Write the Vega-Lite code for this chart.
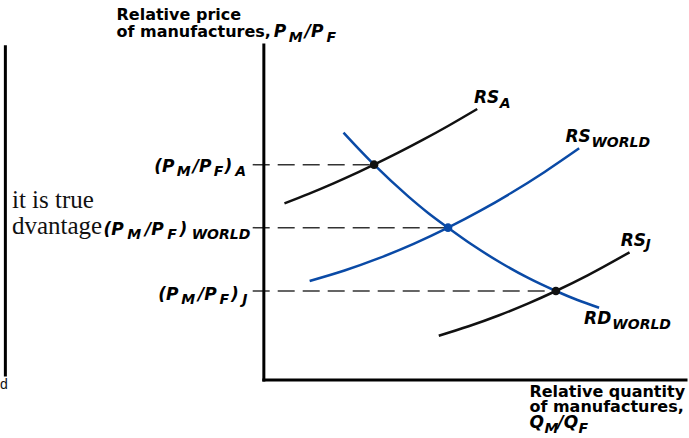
{
  "$schema": "https://vega.github.io/schema/vega-lite/v6.json",
  "width": 689,
  "height": 438,
  "autosize": {"type": "fit", "contains": "padding"},
  "padding": 0,
  "background": "white",
  "config": {"view": {"stroke": null}},
  "datasets": {
    "curves": [
      {"curve": "RS_A", "x": 0.5175, "y": 5.89},
      {"curve": "RS_A", "x": 1.125, "y": 6.207},
      {"curve": "RS_A", "x": 1.75, "y": 6.557},
      {"curve": "RS_A", "x": 2.375, "y": 6.93},
      {"curve": "RS_A", "x": 2.7675, "y": 7.177},
      {"curve": "RS_A", "x": 3.375, "y": 7.576},
      {"curve": "RS_A", "x": 4.0, "y": 8.01},
      {"curve": "RS_A", "x": 4.625, "y": 8.467},
      {"curve": "RS_A", "x": 5.3575, "y": 9.033},
      {"curve": "RS_WORLD", "x": 1.15, "y": 3.3},
      {"curve": "RS_WORLD", "x": 2.025, "y": 3.649},
      {"curve": "RS_WORLD", "x": 2.875, "y": 4.052},
      {"curve": "RS_WORLD", "x": 3.775, "y": 4.546},
      {"curve": "RS_WORLD", "x": 4.625, "y": 5.077},
      {"curve": "RS_WORLD", "x": 5.45, "y": 5.652},
      {"curve": "RS_WORLD", "x": 6.2075, "y": 6.232},
      {"curve": "RS_WORLD", "x": 7.05, "y": 6.936},
      {"curve": "RS_WORLD", "x": 7.9175, "y": 7.723},
      {"curve": "RD_WORLD", "x": 2.0, "y": 8.243},
      {"curve": "RD_WORLD", "x": 2.375, "y": 7.71},
      {"curve": "RD_WORLD", "x": 2.7675, "y": 7.177},
      {"curve": "RD_WORLD", "x": 3.625, "y": 6.123},
      {"curve": "RD_WORLD", "x": 4.125, "y": 5.57},
      {"curve": "RD_WORLD", "x": 4.625, "y": 5.077},
      {"curve": "RD_WORLD", "x": 5.25, "y": 4.49},
      {"curve": "RD_WORLD", "x": 5.9575, "y": 3.9},
      {"curve": "RD_WORLD", "x": 6.625, "y": 3.41},
      {"curve": "RD_WORLD", "x": 7.3325, "y": 2.967},
      {"curve": "RD_WORLD", "x": 7.875, "y": 2.667},
      {"curve": "RD_WORLD", "x": 8.4175, "y": 2.41},
      {"curve": "RS_J", "x": 4.3925, "y": 1.477},
      {"curve": "RS_J", "x": 5.1425, "y": 1.792},
      {"curve": "RS_J", "x": 5.8925, "y": 2.151},
      {"curve": "RS_J", "x": 6.6425, "y": 2.555},
      {"curve": "RS_J", "x": 7.3325, "y": 2.967},
      {"curve": "RS_J", "x": 8.1425, "y": 3.498},
      {"curve": "RS_J", "x": 9.1825, "y": 4.257}
    ],
    "equilibria": [
      {"curve": "RS_A", "x": 2.7675, "y": 7.177},
      {"curve": "RS_WORLD", "x": 4.625, "y": 5.077},
      {"curve": "RS_J", "x": 7.3325, "y": 2.967}
    ],
    "guides": [
      {"x": -0.28, "x2": 2.7675, "y": 7.177},
      {"x": -0.28, "x2": 4.625, "y": 5.077},
      {"x": -0.28, "x2": 7.3325, "y": 2.967}
    ],
    "frame": [
      {"x": 0, "y": 0, "x2": 0, "y2": 11.17},
      {"x": 0, "y": 0, "x2": 10.6, "y2": 0},
      {"x": -6.49, "y": 0.17, "x2": -6.49, "y2": 11.11}
    ],
    "plain": [
      {"x": -3.7, "y": 12.0, "text": "Relative price"},
      {"x": -3.7, "y": 11.42, "text": "of manufactures,"},
      {"x": 6.6675, "y": -0.556, "text": "Relative quantity"},
      {"x": 6.6675, "y": -1.057, "text": "of manufactures,"}
    ],
    "italic": [
      {"x": 0.25, "y": 11.42, "text": "P"},
      {"x": 1.025, "y": 11.42, "text": "/P"},
      {"x": 6.6675, "y": -1.61, "text": "Q"},
      {"x": 7.375, "y": -1.61, "text": "/Q"},
      {"x": -2.75, "y": 6.93, "text": "(P"},
      {"x": -1.7825, "y": 6.93, "text": "/P"},
      {"x": -0.985, "y": 6.93, "text": ")"},
      {"x": -4.025, "y": 4.82, "text": "(P"},
      {"x": -2.985, "y": 4.82, "text": "/P"},
      {"x": -2.115, "y": 4.82, "text": ")"},
      {"x": -2.65, "y": 2.68, "text": "(P"},
      {"x": -1.6525, "y": 2.68, "text": "/P"},
      {"x": -0.825, "y": 2.68, "text": ")"},
      {"x": 5.275, "y": 9.24, "text": "RS"},
      {"x": 7.575, "y": 7.94, "text": "RS"},
      {"x": 8.96, "y": 4.48, "text": "RS"},
      {"x": 8.04, "y": 1.86, "text": "RD"}
    ],
    "subs": [
      {"x": 0.625, "y": 11.28, "text": "M"},
      {"x": 1.575, "y": 11.28, "text": "F"},
      {"x": 7.05, "y": -1.767, "text": "M"},
      {"x": 7.9, "y": -1.767, "text": "F"},
      {"x": -2.19, "y": 6.8, "text": "M"},
      {"x": -1.2575, "y": 6.8, "text": "F"},
      {"x": -0.7175, "y": 6.8, "text": "A"},
      {"x": -3.43, "y": 4.69, "text": "M"},
      {"x": -2.425, "y": 4.69, "text": "F"},
      {"x": -1.8125, "y": 4.69, "text": "WORLD"},
      {"x": -2.075, "y": 2.55, "text": "M"},
      {"x": -1.1125, "y": 2.55, "text": "F"},
      {"x": -0.5425, "y": 2.55, "text": "J"},
      {"x": 5.925, "y": 9.07, "text": "A"},
      {"x": 8.225, "y": 7.78, "text": "WORLD"},
      {"x": 9.58, "y": 4.37, "text": "J"},
      {"x": 8.75, "y": 1.71, "text": "WORLD"}
    ],
    "serif": [
      {"x": -6.325, "y": 5.73, "text": "it is true"},
      {"x": -6.325, "y": 4.88, "text": "dvantage"}
    ],
    "stray": [
      {"x": -6.625, "y": -0.3, "text": "d"}
    ]
  },
  "encoding": {
    "x": {"field": "x", "type": "quantitative", "scale": {"domain": [-6.625, 10.6], "nice": false, "zero": false}, "axis": null},
    "y": {"field": "y", "type": "quantitative", "scale": {"domain": [-1.933, 12.667], "nice": false, "zero": false}, "axis": null}
  },
  "layer": [
    {
      "data": {"name": "serif"},
      "mark": {"type": "text", "font": "Liberation Serif", "fontSize": 25, "align": "left", "baseline": "alphabetic", "color": "#111"},
      "encoding": {"text": {"field": "text"}}
    },
    {
      "data": {"name": "stray"},
      "mark": {"type": "text", "font": "Liberation Sans", "fontSize": 14, "align": "left", "baseline": "alphabetic", "color": "#111"},
      "encoding": {"text": {"field": "text"}}
    },
    {
      "data": {"name": "guides"},
      "mark": {"type": "rule", "color": "#333", "strokeWidth": 1.5, "strokeDash": [17, 8]},
      "encoding": {"x2": {"field": "x2"}}
    },
    {
      "data": {"name": "frame"},
      "mark": {"type": "rule", "color": "#000", "strokeWidth": 3, "strokeCap": "square"},
      "encoding": {"x2": {"field": "x2"}, "y2": {"field": "y2"}}
    },
    {
      "data": {"name": "curves"},
      "mark": {"type": "line", "interpolate": "monotone", "strokeWidth": 2.5},
      "encoding": {
        "detail": {"field": "curve"},
        "color": {"field": "curve", "type": "nominal", "scale": {"domain": ["RS_A", "RS_WORLD", "RD_WORLD", "RS_J"], "range": ["#111111", "#0a4aa6", "#0a4aa6", "#111111"]}, "legend": null}
      }
    },
    {
      "data": {"name": "equilibria"},
      "mark": {"type": "point", "filled": true, "size": 75, "opacity": 1},
      "encoding": {
        "color": {"field": "curve", "type": "nominal", "legend": null}
      }
    },
    {
      "data": {"name": "plain"},
      "mark": {"type": "text", "font": "DejaVu Sans", "fontWeight": "bold", "fontSize": 16, "align": "left", "baseline": "alphabetic", "color": "#000"},
      "encoding": {"text": {"field": "text"}}
    },
    {
      "data": {"name": "italic"},
      "mark": {"type": "text", "font": "DejaVu Sans", "fontWeight": "bold", "fontStyle": "italic", "fontSize": 17, "align": "left", "baseline": "alphabetic", "color": "#000"},
      "encoding": {"text": {"field": "text"}}
    },
    {
      "data": {"name": "subs"},
      "mark": {"type": "text", "font": "DejaVu Sans", "fontWeight": "bold", "fontStyle": "italic", "fontSize": 14, "align": "left", "baseline": "alphabetic", "color": "#000"},
      "encoding": {"text": {"field": "text"}}
    }
  ]
}
